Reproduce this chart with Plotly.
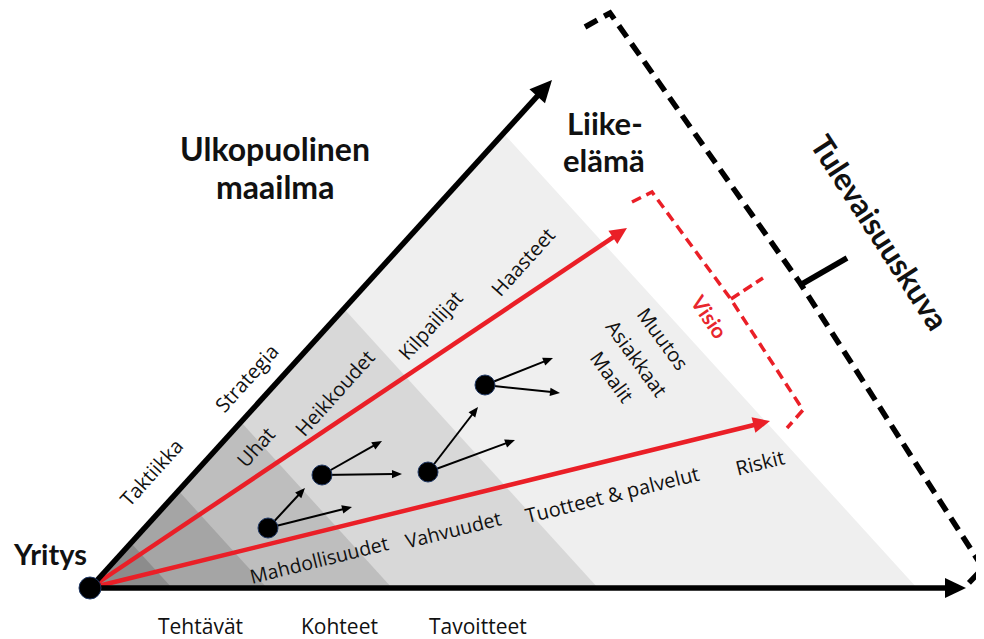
import numpy as np
import plotly.graph_objects as go

# page is drawn with an 8px body margin; data units == page pixels
PAGE_W, PAGE_H = 984, 639
OFF = 8
W, H = PAGE_W - OFF, PAGE_H - OFF

# ---- geometry / data (pixel space of the diagram) ----
origin = (90, 588)
x_axis_tip = (966, 588)
y_axis_tip = (552, 80)

band_edge_x = [172, 267, 392, 598, 917]          # where band edges meet the bottom axis
band_colors = ["#8c8c8c", "#a5a5a5", "#bebebe", "#d8d8d8", "#efefef"]

red_tip_x = [627, 770]
red_tip_y = [228, 421]

node_x = [268, 322, 428, 485]
node_y = [528, 475, 472, 385]
small_from = [0, 0, 1, 1, 2, 2, 3, 3]
small_tip_x = [305, 352, 382, 402, 478, 515, 553, 560]
small_tip_y = [488, 507, 441, 474, 407, 440, 358, 393]

visio_x = [632, 652, 730, 803, 787]
visio_y = [202, 192, 298, 410, 428]
visio_tick_x = [731, 763]
visio_tick_y = [299, 278]

future_x = [585, 610, 800, 983, 967]
future_y = [27, 13, 283, 568, 585]
future_tick_x = [802, 847]
future_tick_y = [284, 258]

BOLD = "Lato"
REG = "Open Sans"
labels = [
    ("<b>Yritys</b>", 50, 553, 0, 29, "#111", BOLD),
    ("<b>Ulkopuolinen</b>", 275, 148, 0, 32, "#111", BOLD),
    ("<b>maailma</b>", 275, 186, 0, 32, "#111", BOLD),
    ("<b>Liike-</b>", 605, 123, 0, 31, "#111", BOLD),
    ("<b>elämä</b>", 604, 160, 0, 31, "#111", BOLD),
    ("<b>Tulevaisuuskuva</b>", 880, 232, 57, 31, "#111", BOLD),
    ("<b>Visio</b>", 710, 316, 56, 21, "#e8262d", BOLD),
    ("Muutos", 663, 338, 54, 20, "#111", REG),
    ("Asiakkaat", 637, 358, 54, 20, "#111", REG),
    ("Maalit", 612, 376, 54, 20, "#111", REG),
    ("Taktiikka", 151, 472, -48, 20, "#111", REG),
    ("Strategia", 246, 378, -48, 20, "#111", REG),
    ("Uhat", 255, 447, -48, 20, "#111", REG),
    ("Heikkoudet", 334, 393, -48, 20, "#111", REG),
    ("Kilpailijat", 430, 325, -48, 20, "#111", REG),
    ("Haasteet", 522, 262, -48, 20, "#111", REG),
    ("Mahdollisuudet", 319, 559, -14, 19.5, "#111", REG),
    ("Vahvuudet", 453, 529, -14, 19.5, "#111", REG),
    ("Tuotteet &amp; palvelut", 612, 494, -14, 20, "#111", REG),
    ("Riskit", 760, 462, -14, 20, "#111", REG),
    ("Tehtävät", 200, 626, 0, 21, "#111", REG),
    ("Kohteet", 339, 626, 0, 21, "#111", REG),
    ("Tavoitteet", 478, 626, 0, 21, "#111", REG),
]

fig = go.Figure()


def upper_point(xb):
    ox, oy = origin
    ux, uy = y_axis_tip[0] - ox, y_axis_tip[1] - oy
    s = (xb - ox) / (2 * ux)          # band edges mirror the upper axis direction
    return ox + ux * s, oy + uy * s


def add_poly(xs, ys, color):
    fig.add_trace(go.Scatter(x=list(xs) + [xs[0]], y=list(ys) + [ys[0]], mode="lines",
                             fill="toself", fillcolor=color, line=dict(width=0, color=color),
                             hoverinfo="skip", showlegend=False))


def add_line(xs, ys, color, width, dash="solid"):
    fig.add_trace(go.Scatter(x=xs, y=ys, mode="lines",
                             line=dict(color=color, width=width, dash=dash),
                             hoverinfo="skip", showlegend=False))


def add_arrow(p0, p1, color, width, hl, hw):
    p0 = np.array(p0, float)
    p1 = np.array(p1, float)
    d = p1 - p0
    d /= np.linalg.norm(d)
    n = np.array([-d[1], d[0]])
    base = p1 - d * hl
    add_line([p0[0], base[0] + d[0] * 1.5], [p0[1], base[1] + d[1] * 1.5], color, width)
    pts = [p1, base + n * hw, base - n * hw]
    add_poly([p[0] for p in pts], [p[1] for p in pts], color)


# bands (outermost first so inner ones draw over)
for i in range(len(band_edge_x) - 1, -1, -1):
    xb = band_edge_x[i]
    ux, uy = upper_point(xb)
    add_poly([origin[0], xb, ux], [origin[1], origin[1], uy], band_colors[i])

# red arrows
for tx, ty in zip(red_tip_x, red_tip_y):
    add_arrow(origin, (tx, ty), "#ea1f27", 4.5, 17, 8)

# axes
add_arrow(origin, x_axis_tip, "#000000", 5.5, 21, 10)
add_arrow(origin, y_axis_tip, "#000000", 5.5, 22, 10.5)

# small arrows from nodes
for k, tx, ty in zip(small_from, small_tip_x, small_tip_y):
    add_arrow((node_x[k], node_y[k]), (tx, ty), "#000000", 2, 10, 4.2)

# nodes
fig.add_trace(go.Scatter(x=node_x + [origin[0]], y=node_y + [origin[1]], mode="markers",
                         marker=dict(size=[20, 20, 20, 20, 22], color="#000000", opacity=1,
                                     line=dict(color="#203864", width=1)),
                         hoverinfo="skip", showlegend=False))

# brackets
add_line(visio_x, visio_y, "#ea1f27", 3.5, "10px,6px")
add_line(visio_tick_x, visio_tick_y, "#ea1f27", 3.5, "10px,5px")
add_line(future_x, future_y, "#000000", 5.5, "14px,8px")
add_line(future_tick_x, future_tick_y, "#000000", 5.5)

for text, x, y, ang, size, col, fam in labels:
    fig.add_annotation(x=x, y=y, xref="x", yref="y", text=text, showarrow=False,
                       textangle=ang, xanchor="center", yanchor="middle",
                       font=dict(family=fam, size=size, color=col))

fig.update_layout(
    width=W, height=H, margin=dict(l=0, r=0, t=0, b=0),
    paper_bgcolor="white", plot_bgcolor="white",
    xaxis=dict(range=[OFF, PAGE_W], visible=False, fixedrange=True),
    yaxis=dict(range=[PAGE_H, OFF], visible=False, fixedrange=True),
    showlegend=False,
)

fig.write_html("out.html")
